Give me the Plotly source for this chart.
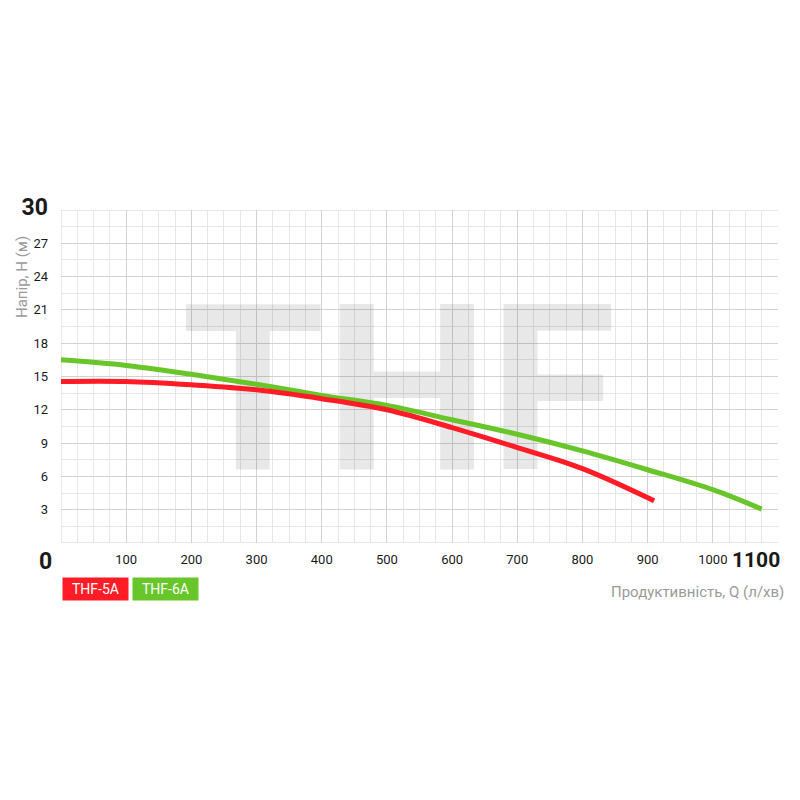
import plotly.graph_objects as go

# ---- data ----
q_5a = [0, 100, 200, 300, 400, 500, 600, 700, 800, 910]
h_5a = [14.55, 14.55, 14.25, 13.8, 13.0, 12.0, 10.4, 8.6, 6.7, 3.8]

q_6a = [0, 100, 200, 300, 400, 500, 600, 700, 800, 900, 1000, 1075]
h_6a = [16.5, 16.0, 15.2, 14.3, 13.3, 12.4, 11.1, 9.8, 8.3, 6.6, 4.8, 3.05]

x_ticks = [100, 200, 300, 400, 500, 600, 700, 800, 900, 1000]
y_ticks = [3, 6, 9, 12, 15, 18, 21, 24, 27, 30]

RED = "#ff1c26"
GREEN = "#68c62a"
FONT = "Roboto, sans-serif"
DARK = "#1a1a1a"

fig = go.Figure()

# watermark
fig.add_trace(go.Scatter(
    x=[518], y=[11.9], mode="text", text=["THF"],
    textfont=dict(family=FONT, size=232, color="rgba(0,0,0,0.09)", weight="bold"),
    hoverinfo="skip", showlegend=False))

fig.add_trace(go.Scatter(x=q_6a, y=h_6a, mode="lines", name="THF-6A",
                         line=dict(color=GREEN, width=5, shape="spline", smoothing=1.0)))
fig.add_trace(go.Scatter(x=q_5a, y=h_5a, mode="lines", name="THF-5A",
                         line=dict(color=RED, width=5, shape="spline", smoothing=1.0)))

y_text = [str(v) for v in y_ticks]
y_text[-1] = '<span style="font-size:23px"><b>30</b></span>'

fig.update_layout(
    width=792, height=792,
    paper_bgcolor="white", plot_bgcolor="white",
    margin=dict(l=53, r=22, t=202, b=257),
    showlegend=False,
    font=dict(family=FONT, size=13, color=DARK),
    xaxis=dict(range=[0, 1100], tickvals=x_ticks, ticktext=[str(v) for v in x_ticks],
               showgrid=True, gridcolor="#d2d2d2", gridwidth=1,
               minor=dict(dtick=25, tick0=0, showgrid=True, gridcolor="#e6e6e6", gridwidth=1),
               zeroline=False, showline=False, ticks="", ticklabelstandoff=7,
               tickfont=dict(family=FONT, size=13, color=DARK)),
    yaxis=dict(range=[0, 30], tickvals=y_ticks, ticktext=y_text,
               showgrid=True, gridcolor="#d2d2d2", gridwidth=1,
               minor=dict(dtick=1.5, tick0=0, showgrid=True, gridcolor="#e6e6e6", gridwidth=1),
               zeroline=False, showline=False, ticks="", ticklabelstandoff=12,
               tickfont=dict(family=FONT, size=13, color=DARK)),
)

# grid lines on the frame edges
fig.add_shape(type="line", xref="x", yref="y", x0=0, x1=1100, y0=30, y1=30,
              line=dict(color="#d2d2d2", width=1), layer="below")
fig.add_shape(type="line", xref="x", yref="y", x0=0, x1=1100, y0=0, y1=0,
              line=dict(color="#d2d2d2", width=1), layer="below")
fig.add_shape(type="line", xref="x", yref="y", x0=0, x1=0, y0=0, y1=30,
              line=dict(color="#d2d2d2", width=1), layer="below")

annotations = [
    dict(x=0, y=0, xref="x", yref="y", text="<b>0</b>", showarrow=False,
         xanchor="right", yanchor="top", xshift=-7, yshift=-3,
         font=dict(family=FONT, size=23, color=DARK)),
    dict(x=1100, y=0, xref="x", yref="y", text="<b>1100</b>", showarrow=False,
         xanchor="right", yanchor="top", xshift=4, yshift=-3,
         font=dict(family=FONT, size=21, color=DARK)),
    dict(x=1, y=0, xref="paper", yref="paper", text="Продуктивність, Q (л/хв)", showarrow=False,
         xanchor="right", yanchor="top", xshift=8, yshift=-38,
         font=dict(family=FONT, size=15, color="#9a9a9a")),
    dict(x=0, y=1, xref="paper", yref="paper", text="Напір, Н (м)", showarrow=False,
         textangle=-90, xanchor="center", yanchor="middle", xshift=-39, yshift=-67,
         font=dict(family=FONT, size=15, color="#9a9a9a")),
    dict(x=0, y=0, xref="paper", yref="paper", text="THF-5A", showarrow=False,
         xanchor="left", yanchor="top", xshift=1, yshift=-34,
         bgcolor=RED, borderpad=3, width=59,
         font=dict(family=FONT, size=14, color="white")),
    dict(x=0, y=0, xref="paper", yref="paper", text="THF-6A", showarrow=False,
         xanchor="left", yanchor="top", xshift=71, yshift=-34,
         bgcolor=GREEN, borderpad=3, width=59,
         font=dict(family=FONT, size=14, color="white")),
]
fig.update_layout(annotations=annotations)

fig.write_html("out.html")
